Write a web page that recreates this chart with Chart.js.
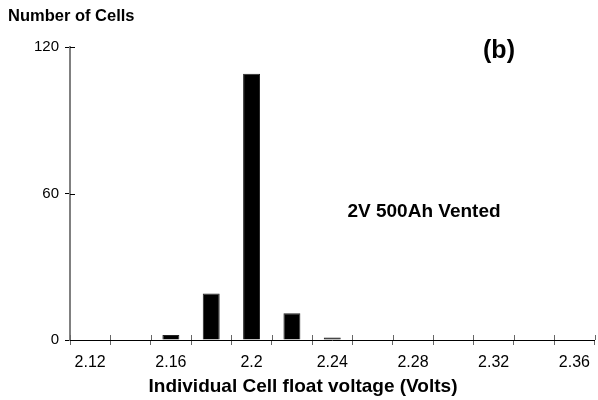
<!DOCTYPE html>
<html>
<head>
<meta charset="utf-8">
<script src="https://cdn.jsdelivr.net/npm/chart.js@4"></script>
<style>
  html, body { margin: 0; padding: 0; background: #fff; }
  #wrap { width: 598px; height: 400px; }
</style>
</head>
<body>
<div id="wrap"><canvas id="cellChart"></canvas></div>
<script>
// float voltage categories (Volts)
const voltages = ['2.12', '2.14', '2.16', '2.18', '2.2', '2.22', '2.24', '2.26', '2.28', '2.3', '2.32', '2.34', '2.36'];
// number of cells per voltage
const cellCounts = [0, 0, 2, 19, 109, 11, 1, 0, 0, 0, 0, 0, 0];
const yTicks = [0, 60, 120];

const FONT = "'Liberation Sans', Arial, sans-serif";

// draws the inner half of the tick marks plus the free text labels
const extras = {
    id: 'extras',
    afterDraw(chart) {
        const ctx = chart.ctx;
        const x = chart.scales.x, y = chart.scales.y;
        ctx.save();
        ctx.lineWidth = 1;
        ctx.strokeStyle = '#666';
        const step = (x.right - x.left) / voltages.length;
        for (let i = 0; i <= voltages.length; i++) {
            const px = Math.round(x.left + i * step) + 0.5;
            ctx.beginPath();
            ctx.moveTo(px, y.bottom);
            ctx.lineTo(px, y.bottom - 5);
            ctx.stroke();
        }
        ctx.strokeStyle = '#000';
        yTicks.forEach(v => {
            const py = Math.round(y.getPixelForValue(v)) + 0.5;
            ctx.beginPath();
            ctx.moveTo(x.left, py);
            ctx.lineTo(x.left + 5, py);
            ctx.stroke();
        });

        ctx.fillStyle = '#000';
        ctx.textBaseline = 'alphabetic';
        ctx.textAlign = 'left';
        ctx.font = 'bold 16.5px ' + FONT;
        ctx.fillText('Number of Cells', 8, 21);
        ctx.textAlign = 'center';
        ctx.font = 'bold 25px ' + FONT;
        ctx.fillText('(b)', 499, 58);
        ctx.font = 'bold 19px ' + FONT;
        ctx.fillText('2V 500Ah Vented', 424, 217);
        ctx.font = 'bold 19px ' + FONT;
        ctx.fillText('Individual Cell float voltage (Volts)', 303, 392);
        ctx.restore();
    }
};

const ctx = document.getElementById('cellChart').getContext('2d');
new Chart(ctx, {
    type: 'bar',
    data: {
        labels: voltages,
        datasets: [{
            label: 'Number of Cells',
            data: cellCounts,
            backgroundColor: '#000',
            borderColor: '#222',
            borderWidth: 1,
            barPercentage: 0.42,
            categoryPercentage: 1.0
        }]
    },
    options: {
        responsive: true,
        maintainAspectRatio: false,
        animation: false,
        layout: { padding: { top: 47, right: 2, left: 0, bottom: 0 } },
        plugins: {
            legend: { display: false },
            tooltip: { enabled: false }
        },
        scales: {
            x: {
                offset: true,
                afterFit(scale) { scale.height = 60; },
                border: { color: '#000', width: 1 },
                grid: {
                    offset: true,
                    drawOnChartArea: false,
                    drawTicks: true,
                    tickLength: 5,
                    color: '#666'
                },
                ticks: {
                    autoSkip: false,
                    maxRotation: 0,
                    padding: 8,
                    color: '#000',
                    font: { family: FONT, size: 16 },
                    callback: (v, i) => (i % 2 === 0 ? voltages[i] : '')
                }
            },
            y: {
                min: 0,
                max: 120,
                afterFit(scale) { scale.width = 70; },
                afterBuildTicks(scale) { scale.ticks = yTicks.map(v => ({ value: v })); },
                border: { color: '#808080', width: 2 },
                grid: {
                    drawOnChartArea: false,
                    drawTicks: true,
                    tickLength: 5,
                    color: '#000'
                },
                ticks: {
                    padding: 6,
                    color: '#000',
                    font: { family: FONT, size: 15 }
                }
            }
        }
    },
    plugins: [extras]
});
</script>
</body>
</html>
